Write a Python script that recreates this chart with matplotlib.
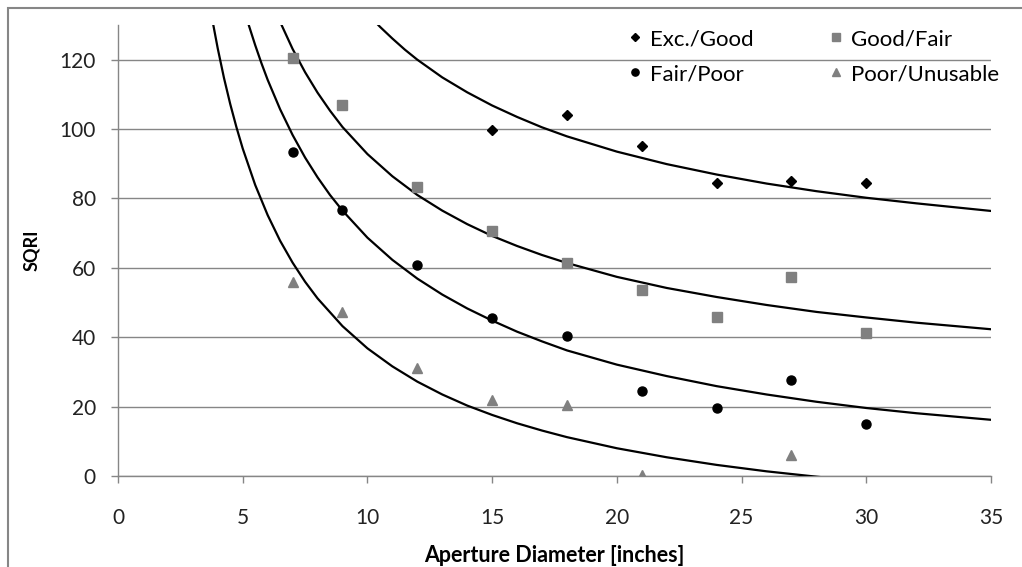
import matplotlib
matplotlib.use('Agg')
import matplotlib.pyplot as plt
from matplotlib.patches import Rectangle

plt.rcParams['font.family'] = ['Lato', 'DejaVu Sans']

# measured points
aperture = [7, 9, 12, 15, 18, 21, 24, 27, 30]
exc_good_x = [15, 18, 21, 24, 27, 30]
exc_good_y = [99.8, 104, 95, 84.5, 85, 84.5]
good_fair_y = [120.5, 107, 83.2, 70.5, 61.3, 53.5, 45.9, 57.5, 41.2]
fair_poor_y = [93.5, 76.7, 60.9, 45.6, 40.3, 24.6, 19.6, 27.6, 15.1]
poor_unus_x = [7, 9, 12, 15, 18, 21, 27]
poor_unus_y = [56, 47.2, 31, 21.9, 20.5, 0.2, 6]

# trend lines
t1_x = [10, 10.5, 11, 11.5, 12, 13, 14, 15, 16, 17, 18, 20, 22, 24, 26, 28,
        30, 32, 35]
t1_y = [133.3, 129.5, 126.1, 122.9, 120.0, 114.9, 110.6, 106.8, 103.5, 100.5,
        97.9, 93.5, 89.9, 86.9, 84.3, 82.1, 80.2, 78.6, 76.4]
t2_x = [6.5, 7, 7.5, 8, 8.5, 9, 10, 11, 12, 13, 14, 15, 16, 17, 18, 20, 22,
        24, 26, 28, 30, 32, 35]
t2_y = [130.9, 123.1, 116.4, 110.5, 105.3, 100.6, 92.8, 86.4, 81.0, 76.5,
        72.6, 69.2, 66.3, 63.7, 61.4, 57.4, 54.2, 51.6, 49.3, 47.3, 45.7,
        44.2, 42.3]
t3_x = [5.15, 5.25, 5.5, 5.75, 6, 6.5, 7, 7.5, 8, 8.5, 9, 10, 11, 12, 13, 14,
        15, 16, 17, 18, 20, 22, 24, 26, 28, 30, 32, 35]
t3_y = [132.3, 129.8, 124.2, 119.0, 114.2, 105.7, 98.3, 91.8, 86.1, 81.0,
        76.5, 68.7, 62.3, 56.9, 52.3, 48.3, 44.8, 41.6, 38.8, 36.2, 32.1,
        28.8, 25.9, 23.5, 21.4, 19.6, 18.1, 16.2]
t4_x = [3.8, 4, 4.25, 4.5, 4.75, 5, 5.5, 6, 6.5, 7, 7.5, 8, 9, 10, 11, 12, 13,
        14, 15, 16, 17, 18, 20, 22, 24, 26, 28, 30]
t4_y = [130.8, 123.2, 114.7, 107.2, 100.5, 94.4, 83.9, 75.2, 67.8, 61.5,
        56.0, 51.2, 43.2, 36.8, 31.6, 27.2, 23.5, 20.3, 17.6, 15.2, 13.1,
        11.2, 8.0, 5.4, 3.2, 1.35, -0.2, -1.6]

grey = '#868686'

fig = plt.figure(figsize=(10.22, 5.67), dpi=100)
fig.patches.append(Rectangle((8 / 1022, -0.1), 1.2, 1 - 8 / 567 + 0.1,
                             transform=fig.transFigure, fill=False,
                             edgecolor=grey, linewidth=1.5))
ax = fig.add_axes([118 / 1022, 1 - 476 / 567, 873 / 1022, 451 / 567])

for tx, ty in [(t1_x, t1_y), (t2_x, t2_y), (t3_x, t3_y), (t4_x, t4_y)]:
    ax.plot(tx, ty, color='black', linewidth=1.6, zorder=3)

h1, = ax.plot(exc_good_x, exc_good_y, 'D', color='black', markersize=5.5,
              linestyle='none', zorder=4)
h2, = ax.plot(aperture, good_fair_y, 's', color='#808080', markersize=7,
              linestyle='none', zorder=4)
h3, = ax.plot(aperture, fair_poor_y, 'o', color='black', markersize=6.5,
              linestyle='none', zorder=4)
h4, = ax.plot(poor_unus_x, poor_unus_y, '^', color='#808080', markersize=7,
              linestyle='none', zorder=4)

ax.set_xlim(0, 35)
ax.set_ylim(0, 130)
ax.set_xticks(range(0, 36, 5))
ax.set_yticks(range(0, 121, 20))
ax.yaxis.grid(True, color=grey, linewidth=1)
ax.set_axisbelow(True)
for s in ['top', 'right']:
    ax.spines[s].set_visible(False)
for s in ['left', 'bottom']:
    ax.spines[s].set_color(grey)
    ax.spines[s].set_linewidth(1)
ax.tick_params(colors=grey, length=5, width=1, labelsize=15,
               labelcolor='#222222')
ax.tick_params(axis='x', pad=18)
ax.tick_params(axis='y', pad=11)

ax.set_xlabel('Aperture Diameter [inches]', fontsize=15.5,
              fontweight='bold', labelpad=12)
ax.set_ylabel('SQRI', fontsize=13, fontweight='bold', labelpad=14)

# column-first fill, so order gives rows Exc/Good + Good/Fair, Fair/Poor + Poor/Unusable
fig.legend([h1, h3, h2, h4], ['Exc./Good', 'Fair/Poor', 'Good/Fair', 'Poor/Unusable'],
           loc='upper left', bbox_to_anchor=(624 / 1022, 1 - 29 / 567), ncol=2,
           frameon=False, fontsize=16, handletextpad=0.18, columnspacing=3.2,
           handlelength=1.0, labelspacing=0.68, markerscale=0.8,
           borderpad=0, borderaxespad=0)

fig.savefig('out.png', dpi=100)
